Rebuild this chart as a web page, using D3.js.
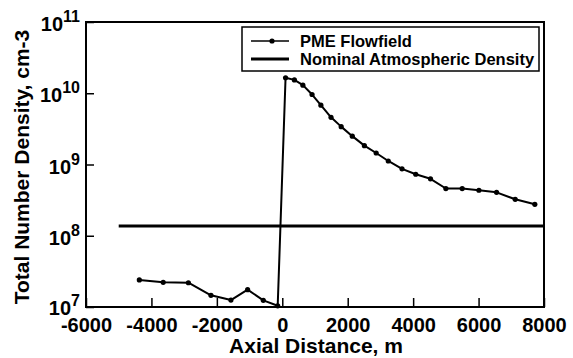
<!DOCTYPE html>
<html>
<head>
<meta charset="utf-8">
<script src="https://cdn.jsdelivr.net/npm/d3@7"></script>
<style>
  html, body { margin: 0; padding: 0; background: #fff; }
  svg { display: block; }
  text { font-family: "Liberation Sans", Arial, sans-serif; font-weight: bold; fill: #000; }
</style>
</head>
<body>
<svg id="chart" width="573" height="358"></svg>
<script>
// ---- data ----
const pmeX = [-4370, -3640, -2870, -2180, -1570, -1060, -580, -140,
  100, 370, 630, 910, 1180, 1490, 1800, 2140, 2510, 2870, 3240, 3660,
  4080, 4530, 5000, 5500, 6010, 6550, 7120, 7720];
const pmeY = [2.4e7, 2.22e7, 2.19e7, 1.46e7, 1.25e7, 1.75e7, 1.24e7, 1.04e7,
  1.65e10, 1.54e10, 1.3e10, 9.6e9, 6.8e9, 4.6e9, 3.4e9, 2.5e9, 1.84e9, 1.45e9, 1.12e9, 8.7e8,
  7.3e8, 6.3e8, 4.6e8, 4.6e8, 4.35e8, 4.07e8, 3.25e8, 2.76e8];
const nominalX = [-5000, 8000];
const nominalY = [1.37e8, 1.37e8];
const xTicks = [-6000, -4000, -2000, 0, 2000, 4000, 6000, 8000];
const yTickExps = [7, 8, 9, 10, 11];
const legendLabels = ["PME Flowfield", "Nominal Atmospheric Density"];
const xTitle = "Axial Distance, m";
const yTitle = "Total Number Density, cm-3";

// ---- layout ----
const svg = d3.select("#chart");
const L = 86, R = 544, T = 22, B = 307;
const x = d3.scaleLinear().domain([-6000, 8000]).range([L, R]);
const y = d3.scaleLog().domain([1e7, 1e11]).range([B, T]);

// x axis (ticks inward)
const xAxis = d3.axisBottom(x).tickValues(xTicks).tickSize(-9).tickPadding(10)
  .tickFormat(d => String(d));
const gx = svg.append("g").attr("transform", `translate(0,${B})`).call(xAxis);
gx.select(".domain").remove();
gx.selectAll(".tick line").attr("stroke", "#000").attr("stroke-width", 1.5);
gx.selectAll(".tick text").attr("font-size", 20).attr("font-family", "Liberation Sans, Arial, sans-serif")
  .attr("font-weight", "bold").attr("fill", "#000").attr("dy", "0.75em");

// y axis (ticks inward, custom superscript labels)
const yAxis = d3.axisLeft(y).tickValues(yTickExps.map(e => Math.pow(10, e))).tickSize(-8).tickFormat("");
const gy = svg.append("g").attr("transform", `translate(${L},0)`).call(yAxis);
gy.select(".domain").remove();
gy.selectAll(".tick line").attr("stroke", "#000").attr("stroke-width", 1.5);
yTickExps.forEach(e => {
  const t = svg.append("text")
    .attr("x", L - 6)
    .attr("y", y(Math.pow(10, e)) + (e === 7 ? 7.5 : 9))
    .attr("text-anchor", "end")
    .attr("font-size", 20);
  t.append("tspan").text("10");
  t.append("tspan").attr("font-size", 16).attr("dy", -9).text(e);
});

// frame
svg.append("rect").attr("x", L).attr("y", T).attr("width", R - L).attr("height", B - T)
  .attr("fill", "none").attr("stroke", "#000").attr("stroke-width", 2);

// nominal line
const nomData = nominalX.map((d, i) => [d, nominalY[i]]);
svg.append("path").datum(nomData)
  .attr("d", d3.line().x(d => x(d[0])).y(d => y(d[1])))
  .attr("fill", "none").attr("stroke", "#000").attr("stroke-width", 3.2);

// PME line
const pme = pmeX.map((d, i) => [d, pmeY[i]]);
svg.append("path").datum(pme)
  .attr("d", d3.line().x(d => x(d[0])).y(d => y(d[1])))
  .attr("fill", "none").attr("stroke", "#000").attr("stroke-width", 2).attr("stroke-linejoin", "round");
svg.selectAll("circle.pt").data(pme).enter().append("circle")
  .attr("class", "pt")
  .attr("cx", d => x(d[0])).attr("cy", d => y(d[1])).attr("r", 2.6).attr("fill", "#000");

// titles
svg.append("text").attr("x", (L + R) / 2 + 1).attr("y", 353).attr("text-anchor", "middle")
  .attr("font-size", 21).text(xTitle);
svg.append("text").attr("transform", "translate(29,167) rotate(-90)").attr("text-anchor", "middle")
  .attr("font-size", 21).text(yTitle);

// legend
const lg = svg.append("g");
lg.append("rect").attr("x", 242).attr("y", 27).attr("width", 297).attr("height", 44)
  .attr("fill", "#fff").attr("stroke", "#000").attr("stroke-width", 1.5);
lg.append("line").attr("x1", 251).attr("x2", 289).attr("y1", 41).attr("y2", 41)
  .attr("stroke", "#000").attr("stroke-width", 1.6);
lg.append("circle").attr("cx", 272).attr("cy", 41).attr("r", 2.6).attr("fill", "#000");
lg.append("line").attr("x1", 251).attr("x2", 289).attr("y1", 59).attr("y2", 59)
  .attr("stroke", "#000").attr("stroke-width", 3);
lg.append("text").attr("x", 300).attr("y", 46.5).attr("font-size", 16.5).text(legendLabels[0]);
lg.append("text").attr("x", 300).attr("y", 65).attr("font-size", 16.5).text(legendLabels[1]);
</script>
</body>
</html>
